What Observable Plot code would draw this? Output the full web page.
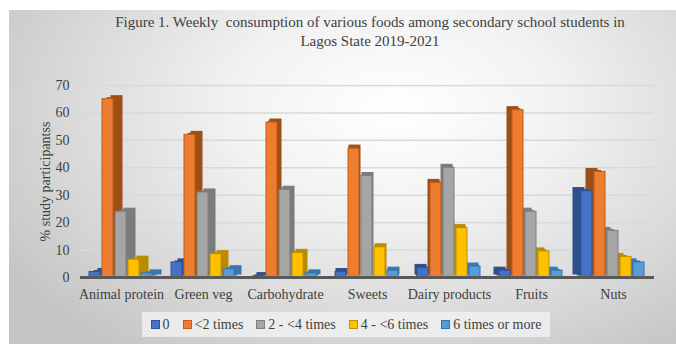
<!DOCTYPE html>
<html>
<head>
<meta charset="utf-8">
<script src="https://cdn.jsdelivr.net/npm/d3@7"></script>
<script src="https://cdn.jsdelivr.net/npm/@observablehq/plot@0.6"></script>
<style>
  html, body { margin: 0; padding: 0; background: #ffffff; font-family: 'Liberation Serif', serif; }
  #wrap { position: relative; width: 676px; height: 344px; overflow: hidden; }
  #panel { position: absolute; left: 9px; top: 10px; width: 667px; height: 334px;
    background: radial-gradient(ellipse 70% 90% at 58% 30%, #ffffff 0%, #f2f2f2 35%, #d6d6d6 75%, #c4c4c4 100%); }
  #title { position: absolute; left: -30px; top: 13px; width: 800px; text-align: center; font-size: 15px; line-height: 19px; color: #404040; white-space: pre; }
  #chart { position: absolute; left: 0; top: 60px; }
  #legend { position: absolute; left: 142px; top: 312px; width: 408px; height: 25px; background: rgba(240,240,240,0.85);
    display: flex; align-items: center; justify-content: center; gap: 13px; font-size: 14px; color: #404040; }
  #legend .item { display: flex; align-items: center; gap: 3px; }
  #legend .sw { width: 7px; height: 7px; border: 1px solid; }
</style>
</head>
<body>
<div id="wrap">
  <div id="panel"></div>
  <div id="title"></div>
  <div id="chart"></div>
  <div id="legend"></div>
</div>
<script>
// Food groups along the axis
const categories = ["Animal protein", "Green veg", "Carbohydrate", "Sweets", "Dairy products", "Fruits", "Nuts"];
// Weekly frequency bands
const series = ["0", "<2 times", "2 - <4 times", "4 - <6 times", "6 times or more"];
// % of study participants in each band, per food group
const times0   = [2, 5.5, 0.5, 2, 3.5, 2.5, 31.5];
const lt2      = [65, 52, 56.5, 47, 34.5, 61, 38.5];
const from2to4 = [24, 31, 32, 37, 40, 24, 17];
const from4to6 = [6.5, 8.5, 9, 11, 18, 9.5, 7.5];
const six      = [1.5, 3, 1.5, 2.5, 4, 2.5, 5.5];
const yTicks = [0, 10, 20, 30, 40, 50, 60, 70];

const titleLines = ["Figure 1. Weekly  consumption of various foods among secondary school students in", "Lagos State 2019-2021"];
const yLabel = "% study participantss";

const front = ["#4472c4", "#ed7d31", "#a5a5a5", "#ffc000", "#5b9bd5"];
const side  = ["#2e4f8c", "#9c4f17", "#7b7b7b", "#b98c00", "#3c76ad"];
const edge  = ["#2f5597", "#c55a11", "#7f7f7f", "#bf9000", "#2e75b6"];
// horizontal offset of each group's side face
const depth = [9, 7, 4, 1, -2, -5, -8];

const valueRows = [times0, lt2, from2to4, from4to6, six];
const data = [];
categories.forEach((cat, i) => {
  series.forEach((s, j) => data.push({cat, series: s, value: valueRows[j][i], j}));
});

document.getElementById("title").innerHTML = titleLines.map(t => `<div>${t}</div>`).join("");

const marks = [
  Plot.ruleY(yTicks.filter(d => d > 0), {stroke: "#d9d9d9", strokeWidth: 1.5}),
];
categories.forEach((cat, i) => {
  const rows = data.filter(d => d.cat === cat);
  // side face, shifted sideways and up
  marks.push(Plot.barY(rows, {fx: "cat", x: "series", y: "value", fill: d => side[d.j], stroke: d => side[d.j], dx: depth[i], dy: -3}));
  // connecting band between the front and side faces
  marks.push(Plot.barY(rows, {fx: "cat", x: "series", y: "value", fill: d => side[d.j], dx: depth[i] / 2, dy: -1.5}));
  // front face
  marks.push(Plot.barY(rows, {fx: "cat", x: "series", y: "value", fill: d => front[d.j], stroke: d => edge[d.j], strokeWidth: 1}));
});
marks.push(Plot.ruleY([0], {stroke: "#595959", strokeWidth: 3}));
marks.push(Plot.axisY({ticks: yTicks, tickSize: 0, tickPadding: 11, fontSize: 14, label: yLabel, labelAnchor: "center", labelArrow: "none", labelOffset: 40}));
marks.push(Plot.axisFx({anchor: "bottom", tickSize: 0, tickPadding: 12, fontSize: 14, label: null}));

const chart = Plot.plot({
  width: 676,
  height: 245,
  marginTop: 25,
  marginBottom: 28,
  marginLeft: 78,
  marginRight: 21,
  style: {background: "transparent", fontFamily: "'Liberation Serif', serif", color: "#404040"},
  fx: {domain: categories, padding: 0},
  x: {domain: series, axis: null, paddingInner: 0.12, paddingOuter: 0.55},
  y: {domain: [0, 70], axis: null},
  marks
});
document.getElementById("chart").appendChild(chart);

const legend = document.getElementById("legend");
series.forEach((s, j) => {
  const item = document.createElement("div");
  item.className = "item";
  const sw = document.createElement("span");
  sw.className = "sw";
  sw.style.background = front[j];
  sw.style.borderColor = edge[j];
  const label = document.createElement("span");
  label.textContent = s;
  item.append(sw, label);
  legend.appendChild(item);
});
</script>
</body>
</html>
